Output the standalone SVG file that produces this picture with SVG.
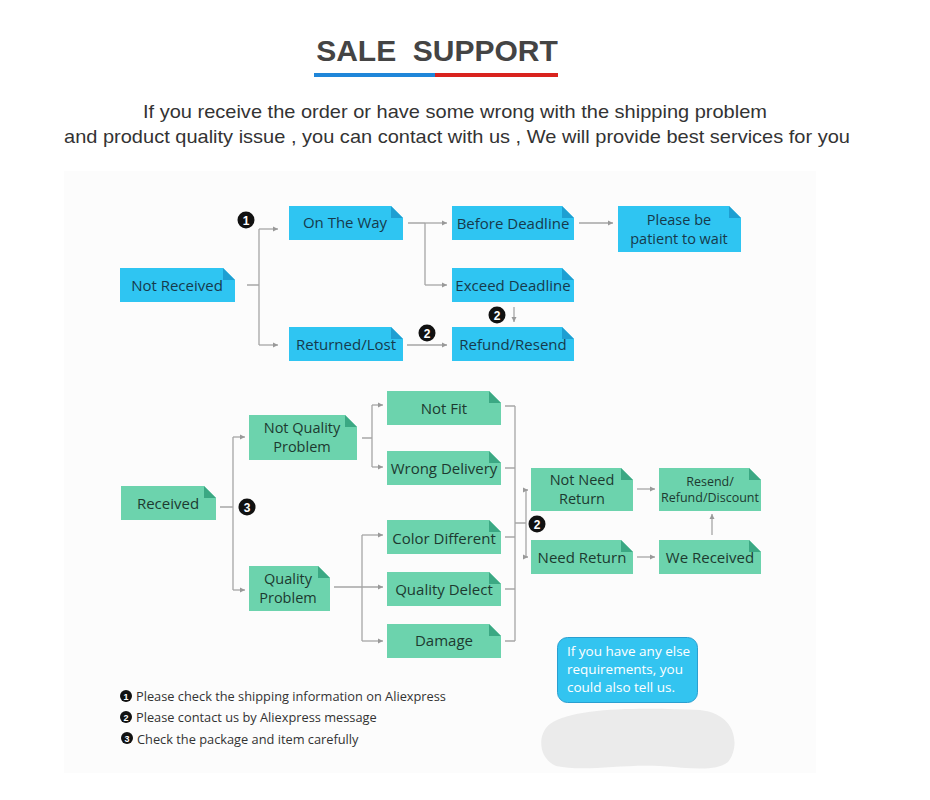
<svg xmlns="http://www.w3.org/2000/svg" width="930" height="800" viewBox="0 0 930 800">
<defs>
<marker id="ar" markerWidth="6" markerHeight="6" refX="5" refY="3" orient="auto" markerUnits="userSpaceOnUse">
<path d="M0,0.5 L5,3 L0,5.5 Z" fill="#999"/>
</marker>
<style>
.t{font-family:"Liberation Sans",Arial,sans-serif}
.n{font-family:"Open Sans","Noto Sans",sans-serif;font-size:15px;text-anchor:middle}
.m{font-size:14.5px}
.bn{fill:#2fc5f2}.bf{fill:#1e9fd2}.bt{fill:#163a4c}
.gn{fill:#6cd3ad}.gf{fill:#3ba883}.gt{fill:#1d3a30}
.c{fill:none;stroke:#a6a6a6;stroke-width:1.3}
.a{marker-end:url(#ar)}
.bc{fill:#111}.bx{fill:#fff;font-family:"Liberation Sans",Arial,sans-serif;font-size:12px;font-weight:bold;text-anchor:middle}
.note{font-family:"Open Sans","Noto Sans",sans-serif;font-size:12.8px;fill:#333}
.nb{fill:#fff;font-family:"Liberation Sans",Arial,sans-serif;font-size:9px;font-weight:bold;text-anchor:middle}
</style>
</defs>
<rect width="930" height="800" fill="#fff"/>
<rect x="64" y="171" width="752" height="602" fill="#fcfcfc"/>

<g id="title">
<text class="t" x="437" y="61" font-size="30" font-weight="bold" fill="#444" text-anchor="middle" xml:space="preserve">SALE  SUPPORT</text>
<rect x="314" y="73" width="121" height="4" fill="#1f86d9"/>
<rect x="435" y="73" width="123" height="4" fill="#d9231e"/>
</g>
<g id="subtitle" class="t" fill="#333" font-size="19" text-anchor="middle">
<text x="455" y="118" textLength="624" lengthAdjust="spacingAndGlyphs">If you receive the order or have some wrong with the shipping problem</text>
<text x="457" y="143" textLength="786" lengthAdjust="spacingAndGlyphs">and product quality issue , you can contact with us , We will provide best services for you</text>
</g>

<g id="connectors">
<path class="c" d="M247,285 H259 M259,229 V345"/>
<path class="c a" d="M259,229 H278"/>
<path class="c a" d="M259,345 H278"/>
<path class="c" d="M408,223 H425 M425,223 V285"/>
<path class="c a" d="M425,223 H447"/>
<path class="c a" d="M425,285 H447"/>
<path class="c a" d="M579,223 H613"/>
<path class="c a" d="M514,307 V322"/>
<path class="c a" d="M407,345 H447"/>
<path class="c" d="M220,507 H233 M233,437 V590"/>
<path class="c a" d="M233,437 H245"/>
<path class="c a" d="M233,590 H245"/>
<path class="c" d="M362,438 H372 M372,405 V467"/>
<path class="c a" d="M372,405 H383"/>
<path class="c a" d="M372,467 H383"/>
<path class="c a" d="M334,587 H383"/>
<path class="c" d="M362,535 V641"/>
<path class="c a" d="M362,535 H383"/>
<path class="c a" d="M362,641 H383"/>
<path class="c" d="M505,406 H515 M505,468 H515 M505,537 H515 M505,589 H515 M505,641 H515 M515,406 V641 M515,523 H526 M526,490 V557"/>
<path class="c a" d="M526,490 H528"/>
<path class="c a" d="M526,557 H528"/>
<path class="c a" d="M637,489 H655"/>
<path class="c a" d="M637,557 H655"/>
<path class="c a" d="M712,535 V514"/>
</g>

<g id="bullets">
<circle class="bc" cx="246" cy="220" r="8.5"/><text class="bx" x="246" y="224.5">1</text>
<circle class="bc" cx="497" cy="315" r="8.5"/><text class="bx" x="497" y="319.5">2</text>
<circle class="bc" cx="427" cy="333" r="8.5"/><text class="bx" x="427" y="337.5">2</text>
<circle class="bc" cx="247" cy="507" r="8.5"/><text class="bx" x="247" y="511.5">3</text>
<circle class="bc" cx="537" cy="524" r="8.5"/><text class="bx" x="537" y="528.5">2</text>
</g>

<g id="not-received"><path class="bn" d="M120,268 H223 L235,280 V302 H120 Z"/><path class="bf" d="M223,268 L235,280 H223 Z"/><text class="n bt" x="177" y="291">Not Received</text></g>
<g id="on-the-way"><path class="bn" d="M289,206 H391 L403,218 V240 H289 Z"/><path class="bf" d="M391,206 L403,218 H391 Z"/><text class="n bt" x="345" y="228">On The Way</text></g>
<g id="before-deadline"><path class="bn" d="M452,206 H562 L574,218 V240 H452 Z"/><path class="bf" d="M562,206 L574,218 H562 Z"/><text class="n bt" x="513" y="229">Before Deadline</text></g>
<g id="patient"><path class="bn" d="M618,206 H729 L741,218 V252 H618 Z"/><path class="bf" d="M729,206 L741,218 H729 Z"/><text class="n m bt" x="679" y="225">Please be</text><text class="n m bt" x="679" y="244">patient to wait</text></g>
<g id="exceed-deadline"><path class="bn" d="M452,268 H562 L574,280 V302 H452 Z"/><path class="bf" d="M562,268 L574,280 H562 Z"/><text class="n bt" x="513" y="291">Exceed Deadline</text></g>
<g id="returned-lost"><path class="bn" d="M289,327 H391 L403,339 V361 H289 Z"/><path class="bf" d="M391,327 L403,339 H391 Z"/><text class="n bt" x="346" y="350">Returned/Lost</text></g>
<g id="refund-resend"><path class="bn" d="M452,327 H562 L574,339 V361 H452 Z"/><path class="bf" d="M562,327 L574,339 H562 Z"/><text class="n bt" x="513" y="350">Refund/Resend</text></g>

<g id="received"><path class="gn" d="M121,486 H204 L216,498 V520 H121 Z"/><path class="gf" d="M204,486 L216,498 H204 Z"/><text class="n gt" x="168" y="509">Received</text></g>
<g id="not-quality-problem"><path class="gn" d="M249,415 H345 L357,427 V460 H249 Z"/><path class="gf" d="M345,415 L357,427 H345 Z"/><text class="n m gt" x="302" y="433">Not Quality</text><text class="n m gt" x="302" y="452">Problem</text></g>
<g id="quality-problem"><path class="gn" d="M249,566 H318 L330,578 V611 H249 Z"/><path class="gf" d="M318,566 L330,578 H318 Z"/><text class="n m gt" x="288" y="584">Quality</text><text class="n m gt" x="288" y="603">Problem</text></g>
<g id="not-fit"><path class="gn" d="M387,391 H489 L501,403 V425 H387 Z"/><path class="gf" d="M489,391 L501,403 H489 Z"/><text class="n gt" x="444" y="414">Not Fit</text></g>
<g id="wrong-delivery"><path class="gn" d="M387,451 H489 L501,463 V485 H387 Z"/><path class="gf" d="M489,451 L501,463 H489 Z"/><text class="n gt" x="444" y="474">Wrong Delivery</text></g>
<g id="color-different"><path class="gn" d="M387,520 H489 L501,532 V554 H387 Z"/><path class="gf" d="M489,520 L501,532 H489 Z"/><text class="n gt" x="444" y="544">Color Different</text></g>
<g id="quality-delect"><path class="gn" d="M387,572 H489 L501,584 V606 H387 Z"/><path class="gf" d="M489,572 L501,584 H489 Z"/><text class="n gt" x="444" y="595">Quality Delect</text></g>
<g id="damage"><path class="gn" d="M387,624 H489 L501,636 V658 H387 Z"/><path class="gf" d="M489,624 L501,636 H489 Z"/><text class="n gt" x="444" y="646">Damage</text></g>
<g id="not-need-return"><path class="gn" d="M531,468 H621 L633,480 V511 H531 Z"/><path class="gf" d="M621,468 L633,480 H621 Z"/><text class="n m gt" x="582" y="485">Not Need</text><text class="n m gt" x="582" y="504">Return</text></g>
<g id="need-return"><path class="gn" d="M531,540 H621 L633,552 V574 H531 Z"/><path class="gf" d="M621,540 L633,552 H621 Z"/><text class="n gt" x="582" y="563">Need Return</text></g>
<g id="resend-refund-discount"><path class="gn" d="M659,468 H749 L761,480 V511 H659 Z"/><path class="gf" d="M749,468 L761,480 H749 Z"/><text class="n gt" x="710" y="486" style="font-size:12.5px">Resend/</text><text class="n gt" x="710" y="502" style="font-size:12.5px">Refund/Discount</text></g>
<g id="we-received"><path class="gn" d="M659,540 H749 L761,552 V574 H659 Z"/><path class="gf" d="M749,540 L761,552 H749 Z"/><text class="n gt" x="710" y="563">We Received</text></g>

<g id="bubble">
<rect x="557.5" y="637.5" width="140" height="65" rx="10" fill="#33c4f0" stroke="#2a9fd0" stroke-width="1"/>
<g font-family="'Open Sans','Noto Sans',sans-serif" font-size="13.5" fill="#fff">
<text x="567" y="656">If you have any else</text>
<text x="567" y="674">requirements, you</text>
<text x="567" y="692">could also tell us.</text>
</g>
</g>
<path id="blob" d="M550,724 C575,706 650,708 700,710 C738,714 740,748 728,762 C715,772 690,768 660,766 C620,764 585,772 556,766 C538,758 537,734 550,724 Z" fill="#ebebeb"/>

<g id="notes">
<circle class="bc" cx="126" cy="696" r="6"/><text class="nb" x="126" y="699.5">1</text>
<text class="note" x="136" y="701">Please check the shipping information on Aliexpress</text>
<circle class="bc" cx="126" cy="717" r="6"/><text class="nb" x="126" y="720.5">2</text>
<text class="note" x="136" y="722">Please contact us by Aliexpress message</text>
<circle class="bc" cx="127" cy="738" r="6"/><text class="nb" x="127" y="741.5">3</text>
<text class="note" x="137" y="744">Check the package and item carefully</text>
</g>
</svg>
